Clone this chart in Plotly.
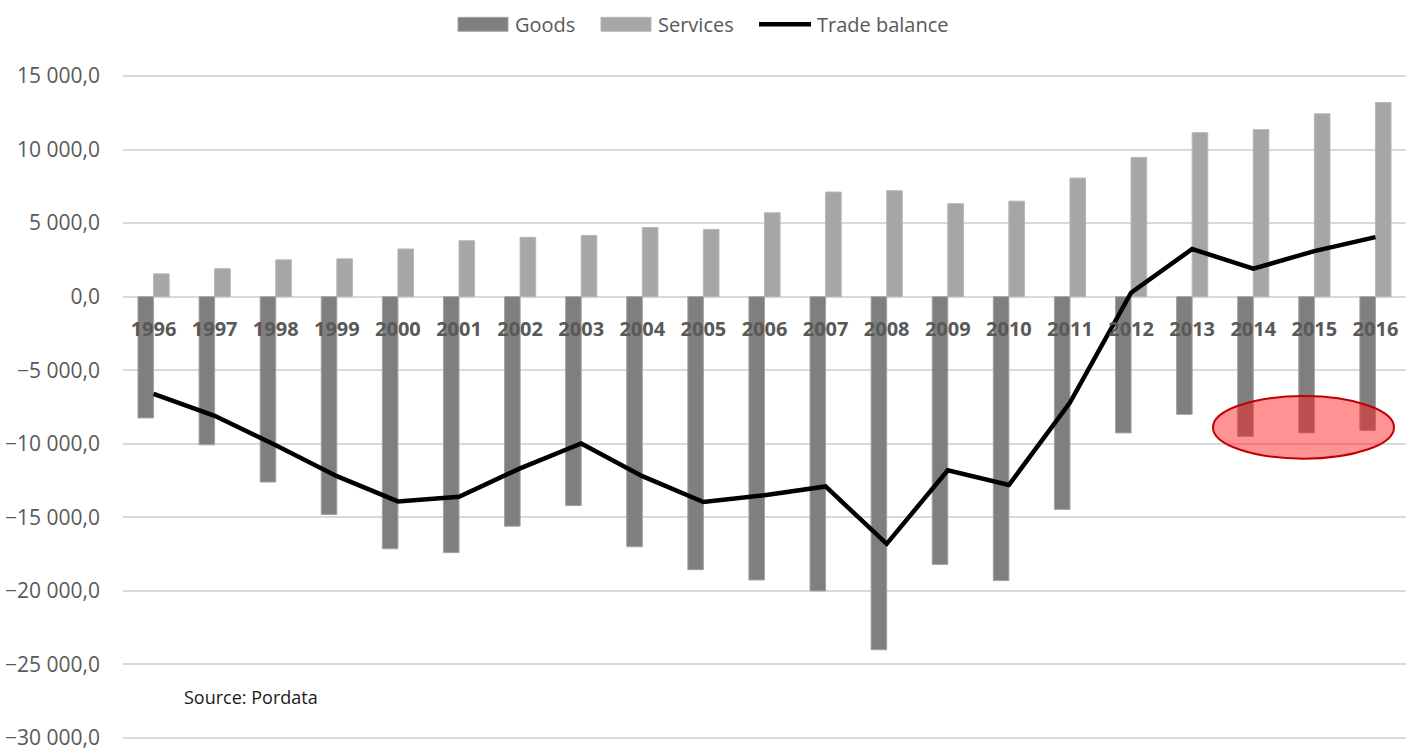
import plotly.graph_objects as go

years = [str(y) for y in range(1996, 2017)]
goods = [-8240, -10070, -12600, -14800, -17140, -17400, -15600, -14200, -17000, -18560,
         -19260, -20000, -24000, -18200, -19300, -14460, -9260, -8000, -9500, -9260, -9100]
services = [1550, 1900, 2500, 2570, 3240, 3800, 4030, 4160, 4700, 4570,
            5700, 7110, 7200, 6320, 6490, 8060, 9460, 11150, 11350, 12430, 13200]
balance = [-6600, -8100, -10100, -12200, -13920, -13600, -11670, -9980, -12200, -13960,
           -13500, -12900, -16800, -11800, -12800, -7200, 270, 3240, 1900, 3100, 4050]
series_names = ["Goods", "Services", "Trade balance"]
y_ticks = [-30000, -25000, -20000, -15000, -10000, -5000, 0, 5000, 10000, 15000]

FONT = "Open Sans"
GRAY = "#595959"
GOODS_C = "#7f7f7f"
SERV_C = "#a6a6a6"

# plot area in pixels (2px padding beyond the outer gridlines)
L, R, T, B = 123, 1406, 74, 744
Y_MIN, Y_MAX = -30135, 15135


def px(x):
    return (x - L) / (R - L)


def py(y):
    return (B - y) / (B - T)


fig = go.Figure()
fig.add_trace(go.Bar(x=years, y=goods, name=series_names[0], showlegend=False,
                     marker=dict(color=GOODS_C, line=dict(color="#a3a3a3", width=1))))
fig.add_trace(go.Bar(x=years, y=services, name=series_names[1], showlegend=False,
                     marker=dict(color=SERV_C, line=dict(color="#b5b5b5", width=1))))
fig.add_trace(go.Scatter(x=years, y=balance, name=series_names[2], mode="lines",
                         showlegend=False, line=dict(color="black", width=4.5)))

zero_frac = (0 - Y_MIN) / (Y_MAX - Y_MIN)

fig.update_layout(
    width=1406, height=751,
    margin=dict(l=L, r=1406 - R, t=T, b=751 - B),
    paper_bgcolor="white", plot_bgcolor="white",
    barmode="group", bargap=0.49, bargroupgap=0,
    separators=", ",
    font=dict(family=FONT, color=GRAY, size=20),
    showlegend=False,
    xaxis=dict(type="category", anchor="free", position=zero_frac,
               showgrid=False, showline=False, zeroline=False, ticks="",
               tickfont=dict(family=FONT, size=20, color=GRAY, weight="bold"),
               ticklabelstandoff=18),
    yaxis=dict(range=[Y_MIN, Y_MAX], tickvals=y_ticks, tickformat=",.1f",
               showgrid=True, gridcolor="#d9d9d9", gridwidth=1.5,
               zeroline=True, zerolinecolor="#d9d9d9", zerolinewidth=1.5,
               showline=False, ticks="", ticklabeloverflow="allow",
               tickfont=dict(family=FONT, size=21, color=GRAY),
               ticklabelstandoff=22),
)

# legend (drawn manually to match swatch shapes)
fig.add_shape(type="rect", xref="paper", yref="paper", x0=px(458), x1=px(508), y0=py(31), y1=py(17),
              fillcolor=GOODS_C, line=dict(color="#a3a3a3", width=1))
fig.add_shape(type="rect", xref="paper", yref="paper", x0=px(601), x1=px(651), y0=py(31), y1=py(17),
              fillcolor=SERV_C, line=dict(color="#b5b5b5", width=1))
fig.add_shape(type="line", xref="paper", yref="paper", x0=px(759), x1=px(811), y0=py(24), y1=py(24),
              line=dict(color="black", width=4.5))
for name, xs in zip(series_names, [513, 656, 815]):
    fig.add_annotation(text=name, xref="paper", yref="paper", x=px(xs), y=py(24),
                       xanchor="left", yanchor="middle", showarrow=False,
                       font=dict(family=FONT, size=20, color=GRAY))

fig.add_annotation(text="Source: Pordata", xref="paper", yref="paper",
                   x=px(182), y=py(701),
                   xanchor="left", yanchor="middle", showarrow=False,
                   font=dict(family=FONT, size=18, color="#1a1a1a"))

fig.add_shape(type="circle", xref="paper", yref="paper",
              x0=px(1213), x1=px(1394), y0=py(461), y1=py(398),
              fillcolor="rgba(255,30,30,0.48)",
              line=dict(color="#c00000", width=2), layer="above")

fig.write_html("out.html")
